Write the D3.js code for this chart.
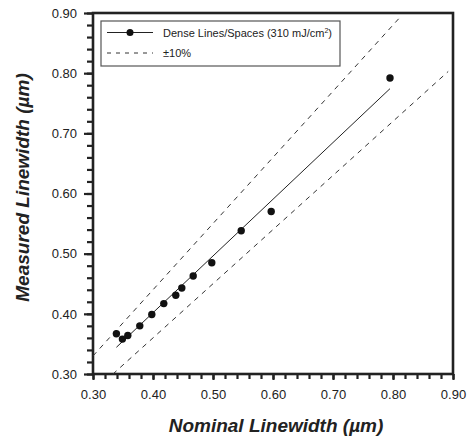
<!DOCTYPE html>
<html lang="en">
<head>
<meta charset="utf-8">
<title>Measured vs nominal linewidth</title>
<script src="https://d3js.org/d3.v7.min.js"></script>
<style>
  body { margin: 0; background: #fff; }
  text { font-family: "Liberation Sans", Arial, sans-serif; fill: #222; }
</style>
</head>
<body>
<script>
// values
var nominal  = [0.339, 0.349, 0.358, 0.378, 0.398, 0.418, 0.438, 0.448, 0.467, 0.498, 0.547, 0.597, 0.795];
var measured = [0.367, 0.358, 0.364, 0.380, 0.399, 0.417, 0.431, 0.443, 0.463, 0.485, 0.538, 0.570, 0.792];
var tickLabels = [0.30, 0.40, 0.50, 0.60, 0.70, 0.80, 0.90];
var minorTicks = d3.range(0.30, 0.9001, 0.02);
var upperBand = [0.30, 0.812];   // nominal range of the +10% line
var lowerBand = [0.333, 0.892];  // nominal range of the -10% line

var margin = {top: 13, right: 17, bottom: 69, left: 93},
    width = 470 - margin.left - margin.right,
    height = 443 - margin.top - margin.bottom;

var svg = d3.select("body").append("svg")
    .attr("width", 470)
    .attr("height", 443)
  .append("g")
    .attr("transform", "translate(" + margin.left + "," + margin.top + ")");

var x = d3.scaleLinear().domain([0.30, 0.90]).range([0, width]);
var y = d3.scaleLinear().domain([0.30, 0.90]).range([height, 0]);

var data = nominal.map(function(d, i) { return {x: d, y: measured[i]}; });

// least squares fit for the solid line
var mx = d3.mean(nominal), my = d3.mean(measured);
var sxy = d3.sum(data, function(d) { return (d.x - mx) * (d.y - my); });
var sxx = d3.sum(data, function(d) { return (d.x - mx) * (d.x - mx); });
var slope = sxy / sxx, icpt = my - slope * mx;
var fit = d3.extent(nominal).map(function(v) { return {x: v, y: icpt + slope * v}; });

var line = d3.line().x(function(d) { return x(d.x); }).y(function(d) { return y(d.y); });

// minor ticks
svg.append("g")
    .attr("class", "minor")
    .call(d3.axisLeft(y).tickValues(minorTicks).tickSize(6).tickFormat(""))
    .call(function(g) { g.select(".domain").remove(); });
svg.append("g")
    .attr("class", "minor")
    .attr("transform", "translate(0," + height + ")")
    .call(d3.axisBottom(x).tickValues(minorTicks).tickSize(5).tickFormat(""))
    .call(function(g) { g.select(".domain").remove(); });

// major ticks + labels
svg.append("g")
    .attr("class", "major")
    .call(d3.axisLeft(y).tickValues(tickLabels).tickSize(9).tickPadding(7).tickFormat(d3.format(".2f")))
    .call(function(g) { g.select(".domain").remove(); });
svg.append("g")
    .attr("class", "major")
    .attr("transform", "translate(0," + height + ")")
    .call(d3.axisBottom(x).tickValues(tickLabels).tickSize(6).tickPadding(10).tickFormat(d3.format(".2f")))
    .call(function(g) { g.select(".domain").remove(); });

svg.selectAll(".minor line, .major line").attr("stroke", "#222").attr("stroke-width", 2.2);
svg.selectAll(".major text").attr("font-size", "13px").attr("fill", "#222")
    .style("font-family", "'Liberation Sans', Arial, sans-serif");

// frame
svg.append("rect")
    .attr("x", 0).attr("y", 0)
    .attr("width", width).attr("height", height)
    .attr("fill", "none")
    .attr("stroke", "#222")
    .attr("stroke-width", 2.6);

// +/- 10% lines
svg.append("path")
    .datum(upperBand.map(function(v) { return {x: v, y: v * 1.1}; }))
    .attr("d", line)
    .attr("fill", "none").attr("stroke", "#333").attr("stroke-width", 1)
    .attr("stroke-dasharray", "5,5");
svg.append("path")
    .datum(lowerBand.map(function(v) { return {x: v, y: v * 0.9}; }))
    .attr("d", line)
    .attr("fill", "none").attr("stroke", "#333").attr("stroke-width", 1)
    .attr("stroke-dasharray", "5,5");

// fit line
svg.append("path")
    .datum(fit)
    .attr("d", line)
    .attr("fill", "none").attr("stroke", "#222").attr("stroke-width", 1);

// points
svg.selectAll("circle.pt")
    .data(data)
    .enter().append("circle")
    .attr("class", "pt")
    .attr("cx", function(d) { return x(d.x); })
    .attr("cy", function(d) { return y(d.y); })
    .attr("r", 3.7)
    .attr("fill", "#111");

// legend
var lg = svg.append("g").attr("transform", "translate(8,8)");
lg.append("rect")
    .attr("width", 239).attr("height", 45)
    .attr("fill", "#fff").attr("stroke", "#555").attr("stroke-width", 1.2);
lg.append("line").attr("x1", 6).attr("x2", 52).attr("y1", 11.5).attr("y2", 11.5)
    .attr("stroke", "#222").attr("stroke-width", 1);
lg.append("circle").attr("cx", 29).attr("cy", 11.5).attr("r", 3.5).attr("fill", "#111");
var t1 = lg.append("text").attr("x", 62).attr("y", 15.5).attr("font-size", "11px");
t1.append("tspan").text("Dense Lines/Spaces (310 mJ/cm");
t1.append("tspan").attr("font-size", "7px").attr("dy", "-4").text("2");
t1.append("tspan").attr("dy", "4").text(")");
lg.append("line").attr("x1", 6).attr("x2", 52).attr("y1", 32).attr("y2", 32)
    .attr("stroke", "#333").attr("stroke-width", 1).attr("stroke-dasharray", "4,5");
lg.append("text").attr("x", 62).attr("y", 36).attr("font-size", "11px").text("\u00b110%");

// axis titles
svg.append("text")
    .attr("x", width / 2 + 3)
    .attr("y", height + 58)
    .attr("text-anchor", "middle")
    .attr("font-size", "19px")
    .attr("font-weight", "bold")
    .attr("font-style", "italic")
    .text("Nominal Linewidth (\u00b5m)");

svg.append("text")
    .attr("transform", "rotate(-90)")
    .attr("x", -height / 2 + 6)
    .attr("y", -64)
    .attr("text-anchor", "middle")
    .attr("font-size", "19px")
    .attr("font-weight", "bold")
    .attr("font-style", "italic")
    .text("Measured Linewidth (\u00b5m)");
</script>
</body>
</html>
